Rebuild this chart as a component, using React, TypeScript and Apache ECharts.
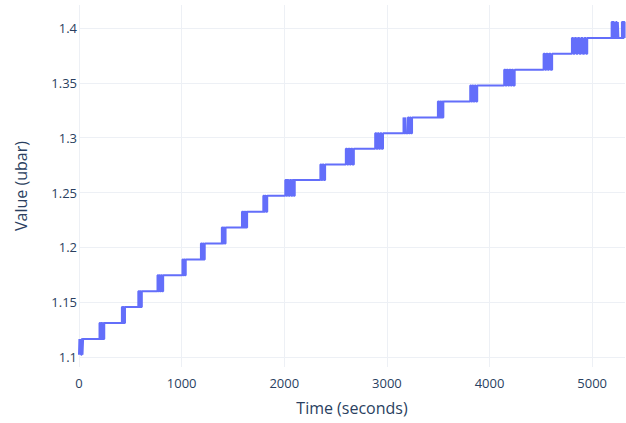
import React, { useEffect, useRef } from "react";
import * as echarts from "echarts";

// Plateau values of the pressure reading (ubar), lowest to highest
const levels: number[] = [
  1.102, 1.1165, 1.131, 1.1455, 1.16, 1.1745, 1.189, 1.2035, 1.218, 1.2325,
  1.247, 1.2615, 1.2755, 1.29, 1.304, 1.3185, 1.333, 1.3475, 1.362, 1.3765,
  1.391, 1.4055,
];

// Times (s) at which the reading flips between plateau i and plateau i+1;
// the first flip goes up, the next one back down, and so on
const flips: number[][] = [
  [4, 9, 14, 20, 27, 34, 40],
  [200, 208, 215, 222, 230, 238, 246],
  [418, 425, 432, 440, 448],
  [578, 586, 594, 603, 612],
  [765, 773, 782, 790, 800, 810, 820],
  [1008, 1016, 1024, 1032, 1040],
  [1188, 1197, 1206, 1215, 1225],
  [1392, 1400, 1408, 1418, 1428],
  [1588, 1596, 1604, 1613, 1622, 1630, 1638],
  [1796, 1804, 1812, 1822, 1834],
  [2010, 2020, 2030, 2042, 2055, 2068, 2080, 2092, 2102],
  [2352, 2362, 2372, 2385, 2398],
  [2600, 2612, 2625, 2638, 2650, 2664, 2678],
  [2886, 2898, 2910, 2922, 2935, 2948, 2962],
  [3162, 3168, 3180, 3186, 3205, 3214, 3224, 3234, 3245],
  [3497, 3506, 3515, 3524, 3533, 3542, 3550],
  [3812, 3822, 3832, 3843, 3855, 3868, 3880],
  [4143, 4155, 4167, 4180, 4193, 4206, 4218, 4230, 4245],
  [4527, 4540, 4553, 4567, 4580, 4595, 4610],
  [4803, 4816, 4830, 4845, 4860, 4876, 4892, 4908, 4924, 4940, 4952],
  [5190, 5197, 5205, 5213, 5232, 5240, 5250, 5256, 5290, 5298, 5308, 5316],
];

const startTime = 0;
const endTime = 5320;

const xTicks: number[] = [0, 1000, 2000, 3000, 4000, 5000];
const yTicks: number[] = [1.1, 1.15, 1.2, 1.25, 1.3, 1.35, 1.4];

function buildSeries(): [number, number][] {
  const pts: [number, number][] = [[startTime, levels[0]]];
  let current = levels[0];
  flips.forEach((times, i) => {
    times.forEach((t, j) => {
      current = j % 2 === 0 ? levels[i + 1] : levels[i];
      pts.push([t, current]);
    });
  });
  pts.push([endTime, current]);
  return pts;
}

const FONT = "'Open Sans', 'DejaVu Sans', sans-serif";
const TEXT = "#2a3f5f";
const GRID = "#edf0f5";

export default function App() {
  const ref = useRef<HTMLDivElement>(null);

  useEffect(() => {
    if (!ref.current) return;
    const chart = echarts.init(ref.current, undefined, { renderer: "svg" });
    chart.setOption({
      animation: false,
      backgroundColor: "#ffffff",
      grid: { left: 79, right: 1, top: 5, bottom: 56, containLabel: false },
      xAxis: {
        type: "value",
        min: 0,
        max: endTime,
        name: "Time (seconds)",
        nameLocation: "middle",
        nameGap: 33,
        nameTextStyle: { color: TEXT, fontFamily: FONT, fontSize: 16 },
        axisLine: { show: false },
        axisTick: { show: false, customValues: xTicks },
        axisLabel: {
          customValues: xTicks,
          color: TEXT,
          fontFamily: FONT,
          fontSize: 13,
          margin: 9,
          formatter: (v: number) => String(Math.round(v)),
        },
        splitLine: { show: true, lineStyle: { color: GRID, width: 1 } },
      },
      yAxis: {
        type: "value",
        min: 1.0909,
        max: 1.421,
        name: "Value (ubar)",
        nameLocation: "middle",
        nameGap: 50,
        nameTextStyle: { color: TEXT, fontFamily: FONT, fontSize: 16 },
        axisLine: { show: false },
        axisTick: { show: false, customValues: yTicks },
        axisLabel: {
          customValues: yTicks,
          color: TEXT,
          fontFamily: FONT,
          fontSize: 13,
          margin: 2,
          formatter: (v: number) => String(Number(v.toFixed(3))),
        },
        splitLine: { show: true, lineStyle: { color: GRID, width: 1 } },
      },
      series: [
        {
          type: "line",
          step: "end",
          data: buildSeries(),
          showSymbol: false,
          symbol: "none",
          lineStyle: { color: "#636efa", width: 2 },
          clip: true,
        },
      ],
    });
    return () => chart.dispose();
  }, []);

  return (
    <div
      ref={ref}
      style={{ position: "fixed", left: 0, top: 0, width: 626, height: 423 }}
    />
  );
}
